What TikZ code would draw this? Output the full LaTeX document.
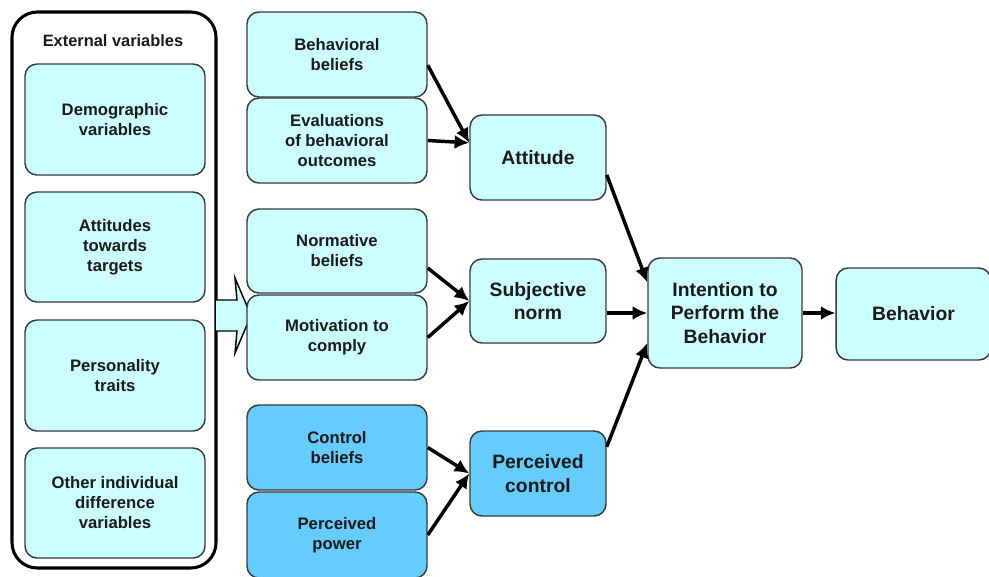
\documentclass[tikz,border=0pt]{standalone}
\usepackage{fontspec}
\setmainfont{Liberation Sans}
\usetikzlibrary{arrows.meta,calc}
\definecolor{lcyan}{HTML}{CCFFFF}
\definecolor{dblue}{HTML}{66CCFF}
\definecolor{bord}{HTML}{3A3A3A}
\definecolor{txt}{HTML}{1A1A1A}
\tikzset{
  box/.style={draw=bord, line width=1.1pt, fill=lcyan, rounded corners=9pt,
    align=center, inner sep=0pt, text=txt,
    font=\fontsize{12.5}{15}\selectfont\bfseries},
  bigbox/.style={box, font=\fontsize{14.5}{17.5}\selectfont\bfseries},
  darkbox/.style={fill=dblue},
  arr/.style={draw=black, line width=2.6pt, -{Latex[length=11pt,width=10.5pt]}},
}
\begin{document}
\begin{tikzpicture}[x=0.75pt,y=-0.75pt]
\useasboundingbox[fill=white] (0,0) rectangle (989,576);
% outer container
\node[draw=black, line width=2.3pt, rounded corners=19pt, minimum width=153pt, minimum height=417pt, fill=white] (outer) at (114,290) {};
\node[text=txt, font=\fontsize{12.3}{14}\selectfont\bfseries] (ext) at (113,41) {External variables};
\node[box, minimum width=135pt, minimum height=83.25pt] (demo) at (115,119.5) {Demographic\\variables};
\node[box, minimum width=135pt, minimum height=82.5pt] (attt) at (115,247) {Attitudes\\towards\\targets};
\node[box, minimum width=135pt, minimum height=83.25pt] (pers) at (115,375.5) {Personality\\traits};
\node[box, minimum width=135pt, minimum height=82.5pt] (other) at (115,503) {Other individual\\difference\\variables};
% block arrow
\draw[fill=lcyan, draw=black, line width=1.1pt] (216,300) -- (237,300) -- (235,278) -- (251,315.5) -- (235,353) -- (237,331) -- (216,331);
% middle column
\node[box, minimum width=135pt, minimum height=63.75pt] (bb) at (337,54.5) {Behavioral\\beliefs};
\node[box, minimum width=135pt, minimum height=63.75pt] (ev) at (337,140.5) {Evaluations\\of behavioral\\outcomes};
\node[box, minimum width=135pt, minimum height=63pt] (nb) at (337,251) {Normative\\beliefs};
\node[box, minimum width=135pt, minimum height=63.75pt] (mc) at (337,337.5) {Motivation to\\comply};
\node[box, darkbox, minimum width=135pt, minimum height=63.75pt] (cb) at (337,447.5) {Control\\beliefs};
\node[box, darkbox, minimum width=135pt, minimum height=64.5pt] (pp) at (337,535) {Perceived\\power};
% third column
\node[bigbox, minimum width=102pt, minimum height=63.75pt] (att) at (538,157.5) {Attitude};
\node[bigbox, minimum width=102pt, minimum height=63pt] (sn) at (538,301) {Subjective\\norm};
\node[bigbox, darkbox, minimum width=102pt, minimum height=63.75pt] (pc) at (538,473.5) {Perceived\\control};
% intention and behavior
\node[bigbox, minimum width=115.5pt, minimum height=82.5pt] (int) at (725,313) {Intention to\\Perform the\\Behavior};
\node[bigbox, minimum width=116pt, minimum height=69pt] (beh) at (913.5,314) {Behavior};
% connectors
\draw[arr] ([yshift=-8pt]bb.east) -- ([yshift=11pt]att.west);
\draw[arr] (ev.east) -- ([yshift=11pt]att.west);
\draw[arr] ([yshift=-12.75pt]nb.east) -- (sn.west);
\draw[arr] (mc.east) -- (sn.west);
\draw[arr] (cb.east) -- (pc.west);
\draw[arr] (pp.east) -- (pc.west);
\draw[arr] ([yshift=-13pt]att.east) -- ([yshift=23pt]int.west);
\draw[arr] (int.west -| sn.east) -- (int.west);
\draw[arr] ([yshift=20pt]pc.east) -- ([yshift=-22.5pt]int.west);
\draw[arr] (int.east) -- (int.east -| beh.west);
\end{tikzpicture}
\end{document}
